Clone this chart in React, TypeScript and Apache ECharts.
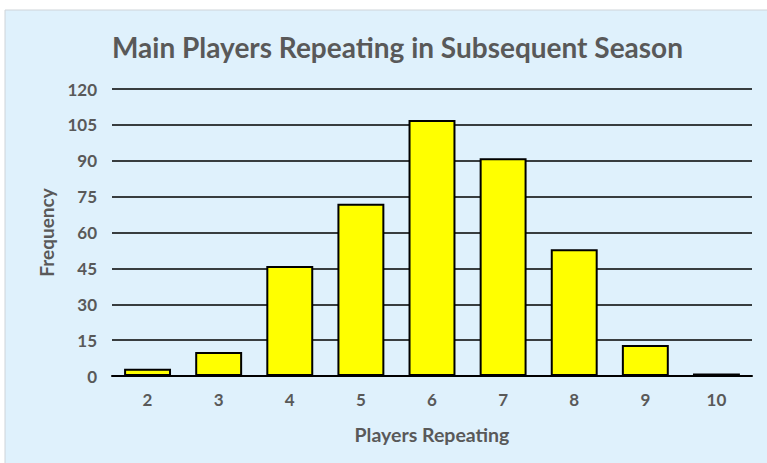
import React, { useEffect, useRef } from "react";
import * as echarts from "echarts";

const categories = ["2", "3", "4", "5", "6", "7", "8", "9", "10"];
const frequency = [3, 10, 46, 72, 107, 91, 53, 13, 1];
const titleText = "Main Players Repeating in Subsequent Season";
const xName = "Players Repeating";
const yName = "Frequency";

export default function App() {
  const ref = useRef<HTMLDivElement>(null);
  useEffect(() => {
    if (!ref.current) return;
    const chart = echarts.init(ref.current, null, { renderer: "svg" });
    const font = "Lato, 'Open Sans', sans-serif";
    chart.setOption({
      animation: false,
      backgroundColor: "#ffffff",
      textStyle: { fontFamily: font },
      graphic: [
        {
          type: "rect",
          z: -10,
          shape: { x: 5, y: 10, width: 780, height: 470 },
          style: { fill: "#dff1fc", stroke: "#cfd4d8", lineWidth: 1 },
        },
      ],
      title: {
        text: titleText,
        left: 107,
        top: 28,
        textStyle: { fontFamily: font, fontSize: 28, fontWeight: "bold", color: "#595959" },
      },
      grid: { left: 112, right: 15, top: 89, bottom: 87 },
      xAxis: {
        type: "category",
        data: categories,
        name: xName,
        nameLocation: "middle",
        nameGap: 48,
        nameTextStyle: { fontFamily: font, fontSize: 19.5, fontWeight: "bold", color: "#595959" },
        axisLine: { lineStyle: { color: "#000", width: 2 } },
        axisTick: { show: false },
        axisLabel: { margin: 15, fontFamily: font, fontSize: 17, fontWeight: "bold", color: "#595959" },
      },
      yAxis: {
        type: "value",
        min: 0,
        max: 120,
        interval: 15,
        name: yName,
        nameLocation: "middle",
        nameGap: 56,
        nameTextStyle: { fontFamily: font, fontSize: 19, fontWeight: "bold", color: "#595959" },
        axisLine: { show: false },
        axisTick: { show: false },
        axisLabel: { margin: 15, fontFamily: font, fontSize: 17, fontWeight: "bold", color: "#595959" },
        splitLine: { lineStyle: { color: "#000", width: 1.5 } },
      },
      series: [
        {
          type: "bar",
          data: frequency,
          barWidth: "66%",
          itemStyle: { color: "#ffff00", borderColor: "#000", borderWidth: 2 },
        },
      ],
    });
    return () => chart.dispose();
  }, []);
  return (
    <div
      ref={ref}
      style={{ position: "fixed", left: 0, top: 0, width: 767, height: 463 }}
    />
  );
}
